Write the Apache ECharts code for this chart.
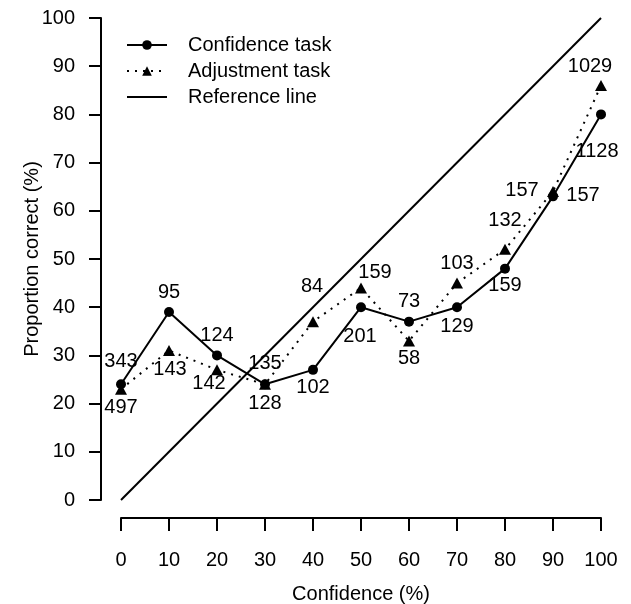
<!DOCTYPE html>
<html>
<head>
<meta charset="utf-8">
<script src="https://cdn.jsdelivr.net/npm/echarts@6/dist/echarts.min.js"></script>
<style>
  html, body { margin: 0; padding: 0; background: #fff; }
  #main { width: 631px; height: 604px; }
</style>
</head>
<body>
<div id="main"></div>
<script>
// confidence levels on the x axis
const confLevels = [0, 10, 20, 30, 40, 50, 60, 70, 80, 90, 100];
// proportion correct (%)
const confidenceTask = [24, 39, 30, 24, 27, 40, 37, 40, 48, 63, 80];
const adjustmentTask = [23, 31, 27, 24, 37, 44, 33, 45, 52, 64, 86];
// number of answers at each level
const confidenceN = [343, 95, 124, 128, 102, 201, 73, 129, 159, 157, 1128];
const adjustmentN = [497, 143, 142, 135, 84, 159, 58, 103, 132, 157, 1029];
// reference line end points
const refLine = [[0, 0], [100, 100]];

// where each count label sits relative to its marker (px)
const confLabelOffset = [[0, -23], [0, -20], [0, -20], [0, 19], [0, 18], [-1, 29],
  [0, -20], [0, 19], [0, 17], [30, -1], [-4, 37]];
const adjLabelOffset = [[0, 18], [1, 19], [-8, 14], [0, -21], [-1, -35], [14, -15],
  [0, 18], [0, -20], [0, -29], [-31, -1], [-11, -19]];

const FONT = '"Liberation Sans", Arial, Helvetica, sans-serif';
const FS = 20;

function buildData(values, counts, offsets) {
  return confLevels.map(function (x, i) {
    return {
      value: [x, values[i]],
      label: {
        show: true,
        position: 'inside',
        offset: offsets[i],
        formatter: String(counts[i]),
        color: '#000',
        fontSize: FS,
        fontFamily: FONT
      }
    };
  });
}

const chart = echarts.init(document.getElementById('main'));

const option = {
  animation: false,
  backgroundColor: '#fff',
  // fixed plot box, don't let v6 shrink it for the axis names
  grid: { left: 121, right: 30, top: 18, bottom: 104, outerBoundsMode: 'none' },
  legend: {
    orient: 'vertical',
    left: 121,
    top: 30,
    itemWidth: 40,
    itemHeight: 12,
    itemGap: 6,
    selectedMode: false,
    textStyle: { color: '#000', fontSize: FS, fontFamily: FONT, padding: [0, 0, 0, 16] },
    data: [
      'Confidence task',
      'Adjustment task',
      // no marker on the reference line entry
      { name: 'Reference line', itemStyle: { opacity: 0 } }
    ]
  },
  xAxis: {
    type: 'value',
    min: 0,
    max: 100,
    interval: 10,
    offset: 18,
    name: 'Confidence (%)',
    nameLocation: 'middle',
    nameGap: 66,
    nameMoveOverlap: false,
    nameTextStyle: { color: '#000', fontSize: FS, fontFamily: FONT },
    axisLine: { show: true, onZero: false, lineStyle: { color: '#000', width: 2 } },
    axisTick: { show: true, length: 13, lineStyle: { color: '#000', width: 2 } },
    axisLabel: { color: '#000', fontSize: FS, fontFamily: FONT, margin: 32 },
    splitLine: { show: false }
  },
  yAxis: {
    type: 'value',
    min: 0,
    max: 100,
    interval: 10,
    offset: 20,
    name: 'Proportion correct (%)',
    nameLocation: 'middle',
    nameGap: 59,
    nameMoveOverlap: false,
    nameTextStyle: { color: '#000', fontSize: FS, fontFamily: FONT },
    axisLine: { show: true, onZero: false, lineStyle: { color: '#000', width: 2 } },
    axisTick: { show: true, length: 12, lineStyle: { color: '#000', width: 2 } },
    axisLabel: { color: '#000', fontSize: FS, fontFamily: FONT, margin: 26 },
    splitLine: { show: false }
  },
  series: [
    {
      name: 'Confidence task',
      type: 'line',
      data: buildData(confidenceTask, confidenceN, confLabelOffset),
      symbol: 'circle',
      symbolSize: 10,
      itemStyle: { color: '#000' },
      lineStyle: { color: '#000', width: 2 },
      z: 3
    },
    {
      name: 'Adjustment task',
      type: 'line',
      data: buildData(adjustmentTask, adjustmentN, adjLabelOffset),
      symbol: 'triangle',
      symbolSize: [12, 11],
      itemStyle: { color: '#000' },
      lineStyle: { color: '#000', width: 2, type: [2, 6] },
      z: 3
    },
    {
      name: 'Reference line',
      type: 'line',
      data: refLine,
      symbol: 'none',
      showSymbol: false,
      itemStyle: { color: '#000' },
      lineStyle: { color: '#000', width: 2 },
      z: 2
    }
  ]
};

chart.setOption(option);
</script>
</body>
</html>
